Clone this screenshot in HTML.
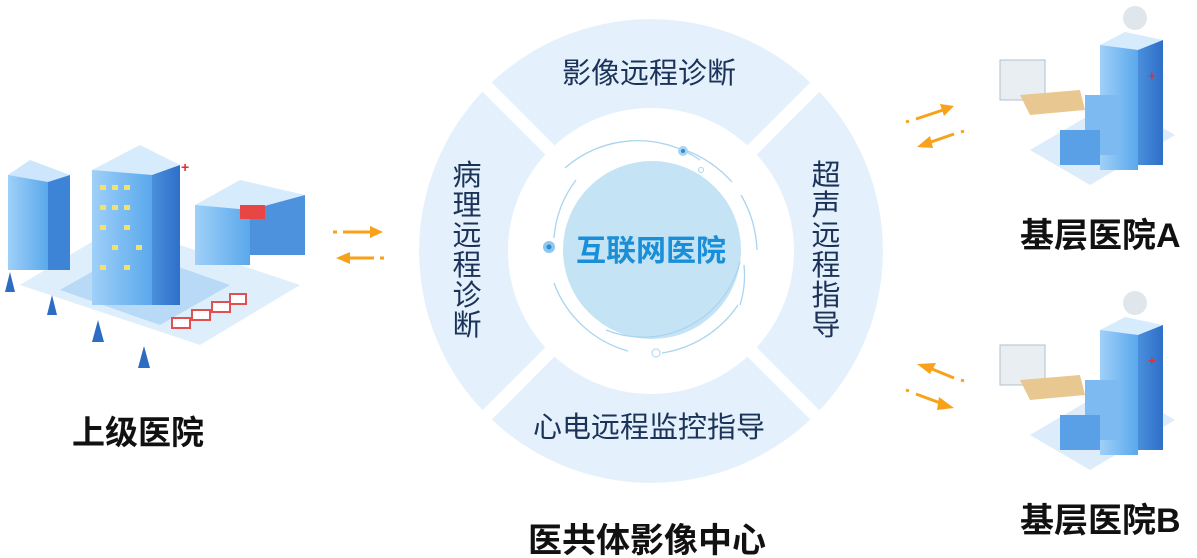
<!DOCTYPE html>
<html><head><meta charset="utf-8"><style>
body{margin:0;background:#fff;}
svg{display:block;font-family:"Liberation Sans","Noto Sans CJK SC",sans-serif;}
</style></head><body>
<svg width="1197" height="558" viewBox="0 0 1197 558">
<defs>
<clipPath id="ring"><circle cx="651" cy="251" r="232"/></clipPath>
<linearGradient id="bf" x1="0" y1="0" x2="1" y2="0"><stop offset="0" stop-color="#9fd0f8"/><stop offset="1" stop-color="#5aa8ec"/></linearGradient>
<linearGradient id="bs" x1="0" y1="0" x2="1" y2="0"><stop offset="0" stop-color="#4a8fdc"/><stop offset="1" stop-color="#2f6fc8"/></linearGradient>
</defs>
<g clip-path="url(#ring)">
<circle cx="651" cy="251" r="232" fill="#e4f1fd"/>
<line x1="400" y1="0" x2="902" y2="502" stroke="#fff" stroke-width="13"/>
<line x1="902" y1="0" x2="400" y2="502" stroke="#fff" stroke-width="13"/>
</g>
<circle cx="651" cy="251" r="143" fill="#fff"/>
<circle cx="652" cy="250" r="89" fill="#c4e3f5"/>
<g fill="none" stroke="#a9d4f0" stroke-width="1.3">
<path d="M565 168 A110 110 0 0 1 700 160"/>
<path d="M685 150 A118 118 0 0 1 732 182"/>
<path d="M741 195 A118 118 0 0 1 757 250"/>
<path d="M744 265 A100 100 0 0 1 740 305"/>
<path d="M738 305 A112 112 0 0 1 662 353"/>
<path d="M606 330 A100 100 0 0 0 740 262"/>
<path d="M576 180 A110 110 0 0 0 554 238"/>
<path d="M554 283 A110 110 0 0 0 628 351"/>
</g>
<circle cx="549" cy="247" r="6" fill="#8cc8ee"/><circle cx="549" cy="247" r="2.5" fill="#2d8ad6"/>
<circle cx="683" cy="151" r="5" fill="#a9d4f0"/><circle cx="683" cy="151" r="2" fill="#2d8ad6"/>
<circle cx="656" cy="353" r="4" fill="none" stroke="#a9d4f0"/>
<circle cx="701" cy="170" r="2.5" fill="none" stroke="#a9d4f0"/>
<text x="651" y="261" text-anchor="middle" font-size="30" font-weight="bold" fill="#1a8fd8">互联网医院</text>
<g font-size="29" fill="#1b3358" text-anchor="middle">
<text x="649" y="83">影像远程诊断</text>
<text x="649" y="437">心电远程监控指导</text>
<text x="467" y="185">病</text><text x="467" y="215">理</text><text x="467" y="245">远</text><text x="467" y="275">程</text><text x="467" y="305">诊</text><text x="467" y="335">断</text>
<text x="826" y="185">超</text><text x="826" y="215">声</text><text x="826" y="245">远</text><text x="826" y="275">程</text><text x="826" y="305">指</text><text x="826" y="335">导</text>
</g>
<g font-weight="bold" fill="#111">
<text x="72" y="444" font-size="33">上级医院</text>
<text x="1020" y="247" font-size="34">基层医院A</text>
<text x="1020" y="532" font-size="34">基层医院B</text>
<text x="528" y="552" font-size="34">医共体影像中心</text>
</g>
<g stroke="#f8a11a" stroke-width="3" fill="#f8a11a">
<line x1="333" y1="232" x2="337" y2="232"/><line x1="343" y1="232" x2="372" y2="232"/><polygon points="370,226 383,232 370,238" stroke="none"/>
<line x1="384" y1="258" x2="380" y2="258"/><line x1="374" y1="258" x2="348" y2="258"/><polygon points="350,252 336,258 350,264" stroke="none"/>
<line x1="906" y1="122" x2="909" y2="121"/><line x1="916" y1="119" x2="943" y2="110"/><polygon points="940,104 954,106 944,116" stroke="none"/>
<line x1="964" y1="131" x2="961" y2="132"/><line x1="954" y1="134" x2="928" y2="143"/><polygon points="930,136 917,147 933,148" stroke="none"/>
<line x1="964" y1="381" x2="961" y2="380"/><line x1="954" y1="378" x2="932" y2="369"/><polygon points="936,363 917,364 930,374" stroke="none"/>
<line x1="906" y1="390" x2="909" y2="391"/><line x1="916" y1="394" x2="943" y2="404"/><polygon points="939,397 954,408 937,410" stroke="none"/>
</g>
<g>
<polygon points="20,285 200,345 300,285 120,225" fill="#dfeefb"/>
<polygon points="60,290 160,325 230,285 130,250" fill="#b8daf7"/>
<rect x="8" y="175" width="40" height="95" fill="url(#bf)"/><rect x="48" y="175" width="22" height="95" fill="#3d84d6"/>
<polygon points="8,175 30,160 70,175 48,182" fill="#cde6fb"/>
<rect x="92" y="170" width="60" height="135" fill="url(#bf)"/><rect x="152" y="165" width="28" height="140" fill="url(#bs)"/>
<polygon points="92,170 140,145 180,165 152,175" fill="#d6ebfc"/>
<g fill="#f5e06a"><rect x="100" y="185" width="6" height="5"/><rect x="112" y="185" width="6" height="5"/><rect x="124" y="185" width="6" height="5"/><rect x="100" y="205" width="6" height="5"/><rect x="112" y="205" width="6" height="5"/><rect x="124" y="205" width="6" height="5"/><rect x="100" y="225" width="6" height="5"/><rect x="124" y="225" width="6" height="5"/><rect x="112" y="245" width="6" height="5"/><rect x="136" y="245" width="6" height="5"/><rect x="100" y="265" width="6" height="5"/><rect x="124" y="265" width="6" height="5"/></g>
<text x="181" y="172" font-size="14" fill="#e03030" font-weight="bold">+</text>
<rect x="195" y="205" width="55" height="60" fill="url(#bf)"/><rect x="250" y="195" width="55" height="60" fill="#4d92dd"/>
<polygon points="195,205 240,180 305,195 250,210" fill="#d6ebfc"/>
<rect x="240" y="205" width="25" height="14" fill="#e84545"/>
<g fill="#2c6cc3"><path d="M5 292 l5 -20 l5 20z"/><path d="M47 315 l5 -20 l5 20z"/><path d="M92 342 l6 -22 l6 22z"/><path d="M138 368 l6 -22 l6 22z"/></g>
<g fill="#fff" stroke="#e05050" stroke-width="2"><rect x="172" y="318" width="18" height="10"/><rect x="192" y="310" width="18" height="10"/><rect x="212" y="302" width="18" height="10"/><rect x="230" y="294" width="16" height="10"/></g>
</g>
<g id="h">
<polygon points="1030,150 1090,185 1175,135 1115,100" fill="#dcecfb"/>
<rect x="1100" y="45" width="38" height="125" fill="url(#bf)"/><rect x="1138" y="40" width="25" height="125" fill="url(#bs)"/>
<polygon points="1100,45 1125,32 1163,40 1138,50" fill="#d6ebfc"/>
<rect x="1085" y="95" width="35" height="60" fill="#7dbaf2"/><rect x="1060" y="130" width="40" height="35" fill="#5aa0e6"/>
<rect x="1000" y="60" width="45" height="40" fill="#e8eef2" stroke="#b0c0cc"/>
<polygon points="1020,95 1080,90 1085,110 1030,115" fill="#e8c890"/>
<circle cx="1135" cy="18" r="12" fill="#dfe6ec"/>
<text x="1148" y="80" font-size="13" fill="#e03030" font-weight="bold">+</text>
</g>
<use href="#h" transform="translate(0,285)"/>
</svg>
</body></html>
